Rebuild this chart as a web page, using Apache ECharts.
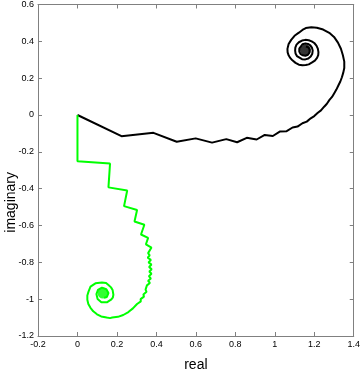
<!DOCTYPE html>
<html>
<head>
<meta charset="utf-8">
<script src="https://cdn.jsdelivr.net/npm/echarts@6/dist/echarts.min.js"></script>
<style>
  html, body { margin: 0; padding: 0; background: #fff; }
  #chart { width: 363px; height: 377px; }
</style>
</head>
<body>
<div id="chart"></div>
<script>
// partial sums (real, imaginary)
const blackReal = [0, 0.223, 0.385, 0.503, 0.599, 0.682, 0.754, 0.809, 0.858, 0.908, 0.949, 0.990, 1.025, 1.060, 1.090, 1.115, 1.140, 1.162, 1.182, 1.200, 1.218, 1.234, 1.250, 1.263, 1.277, 1.290, 1.302, 1.312, 1.322, 1.332, 1.340, 1.347, 1.352, 1.352, 1.345, 1.335, 1.320, 1.300, 1.276, 1.245, 1.213, 1.185, 1.157, 1.140, 1.122, 1.100, 1.083, 1.070, 1.064, 1.065, 1.070, 1.078, 1.089, 1.105, 1.122, 1.140, 1.157, 1.172, 1.187, 1.203, 1.214, 1.220, 1.221, 1.218, 1.211, 1.200, 1.187, 1.172, 1.155, 1.138, 1.122, 1.110, 1.104, 1.103, 1.105, 1.112, 1.122, 1.138, 1.155, 1.170, 1.182, 1.190, 1.192, 1.188, 1.180, 1.168, 1.155, 1.140, 1.130, 1.124, 1.124, 1.130, 1.142, 1.155, 1.168, 1.176, 1.176, 1.170, 1.158];
const blackImag = [0, -0.115, -0.097, -0.145, -0.127, -0.150, -0.131, -0.148, -0.124, -0.133, -0.108, -0.114, -0.090, -0.088, -0.068, -0.063, -0.045, -0.036, -0.018, -0.006, 0.012, 0.025, 0.045, 0.060, 0.082, 0.098, 0.120, 0.138, 0.160, 0.182, 0.205, 0.230, 0.255, 0.290, 0.324, 0.360, 0.393, 0.424, 0.446, 0.464, 0.474, 0.476, 0.472, 0.462, 0.447, 0.430, 0.408, 0.385, 0.359, 0.340, 0.324, 0.310, 0.297, 0.283, 0.273, 0.270, 0.271, 0.275, 0.284, 0.295, 0.310, 0.325, 0.341, 0.360, 0.377, 0.391, 0.400, 0.406, 0.408, 0.404, 0.395, 0.382, 0.366, 0.350, 0.334, 0.320, 0.310, 0.303, 0.302, 0.307, 0.318, 0.333, 0.350, 0.366, 0.378, 0.386, 0.388, 0.384, 0.374, 0.360, 0.345, 0.332, 0.324, 0.322, 0.327, 0.340, 0.355, 0.367, 0.372];

const greenReal = [0, 0, 0.165, 0.157, 0.252, 0.236, 0.302, 0.289, 0.339, 0.322, 0.358, 0.347, 0.375, 0.358, 0.366, 0.356, 0.372, 0.360, 0.375, 0.363, 0.376, 0.364, 0.375, 0.362, 0.372, 0.358, 0.367, 0.352, 0.360, 0.345, 0.350, 0.334, 0.337, 0.320, 0.321, 0.302, 0.301, 0.281, 0.278, 0.258, 0.252, 0.232, 0.224, 0.205, 0.195, 0.176, 0.165, 0.148, 0.141, 0.120, 0.099, 0.080, 0.066, 0.055, 0.050, 0.050, 0.056, 0.066, 0.091, 0.124, 0.145, 0.157, 0.170, 0.178, 0.182, 0.179, 0.170, 0.149, 0.121, 0.102, 0.096, 0.104, 0.124, 0.146, 0.157, 0.149, 0.135];
const greenImag = [0, -0.251, -0.264, -0.393, -0.410, -0.495, -0.516, -0.578, -0.596, -0.649, -0.667, -0.702, -0.720, -0.750, -0.762, -0.775, -0.787, -0.800, -0.812, -0.825, -0.838, -0.850, -0.862, -0.875, -0.888, -0.900, -0.912, -0.925, -0.935, -0.948, -0.960, -0.975, -0.986, -1.000, -1.012, -1.026, -1.036, -1.050, -1.060, -1.070, -1.080, -1.086, -1.094, -1.096, -1.101, -1.100, -1.103, -1.100, -1.100, -1.094, -1.082, -1.066, -1.047, -1.026, -1.003, -0.980, -0.959, -0.932, -0.914, -0.909, -0.912, -0.923, -0.936, -0.950, -0.976, -0.992, -1.003, -1.017, -1.017, -0.999, -0.972, -0.950, -0.937, -0.946, -0.967, -0.988, -0.992];

// where each spiral winds in (drawn as a filled blob)
const limitReal = [1.155, 0.129];
const limitImag = [0.354, -0.967];
const lineColors = ['#000000', '#00ff00'];

const xTicks = { min: -0.2, max: 1.4, step: 0.2 };
const yTicks = { min: -1.2, max: 0.6, step: 0.2 };

const zip = (xs, ys) => xs.map((x, i) => [x, ys[i]]);
const fmt = (v) => String(+v.toFixed(1));

const chart = echarts.init(document.getElementById('chart'), null, { renderer: 'canvas' });

const labelFont = { color: '#000', fontSize: 9, fontFamily: 'Liberation Sans Narrow, Liberation Sans, Arial, sans-serif' };
const frame = { show: true, onZero: false, lineStyle: { color: '#808080', width: 1 } };
const ticksIn = { show: true, inside: true, length: 4, lineStyle: { color: '#808080' } };

chart.setOption({
  animation: false,
  grid: { left: 38, right: 2, top: 3, bottom: 35, containLabel: false },
  xAxis: [
    {
      type: 'value', min: xTicks.min, max: xTicks.max, interval: xTicks.step,
      axisLine: frame, axisTick: ticksIn, splitLine: { show: false },
      axisLabel: { ...labelFont, margin: 4, formatter: fmt },
      name: 'real', nameLocation: 'middle', nameGap: 22,
      nameTextStyle: { color: '#000', fontSize: 14, fontFamily: 'Liberation Sans, Arial, sans-serif' },
    },
    {
      type: 'value', position: 'top', min: xTicks.min, max: xTicks.max, interval: xTicks.step,
      axisLine: frame, axisTick: ticksIn, axisLabel: { show: false }, splitLine: { show: false },
    },
  ],
  yAxis: [
    {
      type: 'value', min: yTicks.min, max: yTicks.max, interval: yTicks.step,
      axisLine: frame, axisTick: ticksIn, splitLine: { show: false },
      axisLabel: { ...labelFont, margin: 4, formatter: fmt },
    },
    {
      type: 'value', position: 'right', min: yTicks.min, max: yTicks.max, interval: yTicks.step,
      axisLine: frame, axisTick: ticksIn, axisLabel: { show: false }, splitLine: { show: false },
    },
  ],
  graphic: [{
    type: 'text', left: 4, top: 172, rotation: Math.PI / 2,
    style: { text: 'imaginary', fill: '#000', fontSize: 14, fontFamily: 'Liberation Sans, Arial, sans-serif' },
  }],
  series: [
    {
      type: 'line', data: zip(blackReal, blackImag), showSymbol: false, smooth: false,
      lineStyle: { color: lineColors[0], width: 2 }, z: 3,
    },
    {
      type: 'line', data: zip(greenReal, greenImag), showSymbol: false, smooth: false,
      lineStyle: { color: lineColors[1], width: 2 }, z: 3,
    },
    {
      type: 'scatter', symbolSize: 11, z: 4,
      data: zip(limitReal, limitImag).map((p, i) => ({ value: p, itemStyle: { color: lineColors[i] } })),
    },
  ],
});
</script>
</body>
</html>
